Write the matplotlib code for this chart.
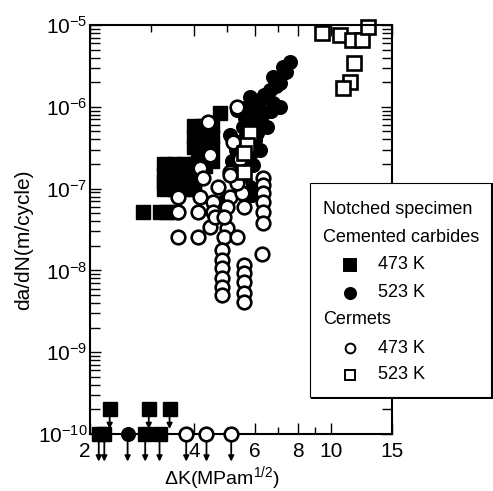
import numpy as np
import matplotlib
matplotlib.use('Agg')
import matplotlib.pyplot as plt
from matplotlib.lines import Line2D
from matplotlib.patches import Rectangle
from matplotlib.ticker import FixedLocator, FixedFormatter, LogLocator, LogFormatterMathtext, NullFormatter

plt.rcParams['font.family'] = ['Liberation Sans', 'DejaVu Sans']
plt.rcParams['mathtext.fontset'] = 'custom'
plt.rcParams['mathtext.rm'] = 'Liberation Sans'

# cemented carbides, 473 K (filled squares)
sq473_dk = [3.28, 3.50, 3.75, 4.00, 3.28, 3.50, 3.75, 4.00, 3.28, 3.50, 3.75, 4.00,
            3.28, 3.50, 3.75, 4.00,
            4.00, 4.25, 4.50, 4.00, 4.25, 4.50, 4.00, 4.25, 4.50, 4.10, 4.35,
            4.77, 4.30, 4.50,
            2.85, 3.19, 3.34, 3.50]
sq473_rate = [2.0e-7, 2.0e-7, 2.0e-7, 2.0e-7, 1.5e-7, 1.5e-7, 1.5e-7, 1.5e-7, 1.2e-7, 1.2e-7, 1.2e-7, 1.2e-7,
              1.0e-7, 1.0e-7, 1.0e-7, 1.0e-7,
              5.8e-7, 5.8e-7, 5.8e-7, 4.3e-7, 4.3e-7, 4.3e-7, 3.2e-7, 3.2e-7, 3.2e-7, 2.5e-7, 2.5e-7,
              8.4e-7, 1.9e-7, 2.2e-7,
              5.2e-8, 5.2e-8, 5.2e-8, 5.2e-8]

# cemented carbides, 523 K (filled circles)
ci523_dk = [7.6, 7.25, 6.8, 7.1, 6.65, 6.22, 5.82, 5.71, 6.8, 7.1, 6.37, 6.53, 5.95, 5.55,
            5.71, 5.44, 5.82, 6.0, 5.55, 6.22, 6.0, 5.95, 5.88, 5.16, 5.3, 5.1, 5.33, 5.63,
            4.8, 4.9,
            7.4, 6.9, 6.4, 6.1, 5.9, 6.7, 6.2, 5.7, 5.85, 5.6, 6.1]
ci523_rate = [3.5e-6, 3.1e-6, 2.3e-6, 1.95e-6, 1.6e-6, 1.21e-6, 1.32e-6, 1.0e-6, 1.11e-6, 1.0e-6,
              8.4e-7, 5.7e-7, 6.3e-7, 3.9e-7, 2.2e-7, 1.55e-7, 1.05e-7, 9.1e-7, 5.7e-7, 3.0e-7,
              3.9e-7, 1.94e-7, 8.4e-8, 2.2e-7, 3.0e-7, 4.5e-7, 9.1e-7, 7.3e-7, 5.5e-8, 7.0e-8,
              2.7e-6, 1.8e-6, 1.4e-6, 1.1e-6, 8.0e-7, 9.0e-7, 7.0e-7, 5.0e-7, 2.7e-7, 1.3e-7, 4.8e-7]

# cermets, 473 K (open circles)
oc473_dk = [5.33, 4.40, 5.19, 4.46, 4.17, 5.09, 5.44,
            6.35, 6.35, 6.35, 6.35, 6.35, 6.35, 6.30,
            4.70, 3.60, 4.17, 4.55, 5.09, 5.00, 5.57,
            3.60, 4.11, 4.55, 4.46, 5.00, 4.61, 4.90,
            3.60, 4.11, 4.90, 5.33,
            4.82, 4.82, 4.82, 4.82, 4.82, 4.82,
            5.57, 5.57, 5.57, 5.57, 5.57,
            5.52, 4.26, 5.33, 5.44, 5.10]
oc473_rate = [1.0e-6, 6.5e-7, 3.7e-7, 2.6e-7, 1.8e-7, 1.6e-7, 1.1e-7,
              1.35e-7, 1.1e-7, 8.8e-8, 6.9e-8, 5.2e-8, 3.8e-8, 1.6e-8,
              1.04e-7, 7.9e-8, 7.9e-8, 6.9e-8, 7.9e-8, 5.9e-8, 5.9e-8,
              5.2e-8, 5.2e-8, 5.2e-8, 3.4e-8, 3.3e-8, 4.5e-8, 4.5e-8,
              2.56e-8, 2.56e-8, 2.56e-8, 2.56e-8,
              1.77e-8, 1.34e-8, 1.07e-8, 8.1e-9, 6.3e-9, 5.0e-9,
              1.16e-8, 9.3e-9, 7.2e-9, 5.3e-9, 4.1e-9,
              8.8e-8, 1.35e-7, 1.17e-7, 2.3e-7, 1.45e-7]

# cermets, 523 K (open squares)
os523_dk = [5.82, 5.70, 5.57, 5.57, 9.4, 10.6, 11.5, 12.3, 12.8, 11.6, 11.3, 10.8]
os523_rate = [4.8e-7, 3.4e-7, 1.6e-7, 2.7e-7, 8.0e-6, 7.55e-6, 6.6e-6, 6.6e-6, 9.5e-6,
              3.4e-6, 2.0e-6, 1.7e-6]

# run-outs (no growth detected), plotted at the lower limit
run_dk = [2.12, 2.20, 2.89, 3.18, 2.57, 3.80, 4.35, 5.13, 2.28, 2.96, 3.40]
run_rate = [1e-10, 1e-10, 1e-10, 1e-10, 1e-10, 1e-10, 1e-10, 1e-10, 2e-10, 2e-10, 2e-10]
run_kind = ['sq', 'sq', 'sq', 'sq', 'ci', 'oc', 'oc', 'oc', 'sq', 'sq', 'sq']

xticks = [2, 4, 6, 8, 10, 15]
xticklabels = ['2', '4', '6', '8', '10', '15']

fig = plt.figure(figsize=(4.93, 4.91), dpi=100)
ax = fig.add_axes([0.1826, 0.1161, 0.6126, 0.8330])

ms = 9.8
kw_fill = dict(ls='none', color='k', ms=ms, clip_on=False)
kw_open = dict(ls='none', mfc='white', mec='k', mew=1.9, ms=ms, clip_on=False)

# run-out arrows
for x, y in zip(run_dk, run_rate):
    if y < 1.5e-10:
        ax.annotate('', xy=(x, 4.6e-11), xytext=(x, y), annotation_clip=False,
                    arrowprops=dict(arrowstyle='-|>', color='k', lw=1.3, mutation_scale=8,
                                    shrinkA=0, shrinkB=0))
    else:
        ax.annotate('', xy=(x, 1.15e-10), xytext=(x, y), annotation_clip=False,
                    arrowprops=dict(arrowstyle='-|>', color='k', lw=1.3, mutation_scale=8,
                                    shrinkA=0, shrinkB=0))

ax.plot(sq473_dk, sq473_rate, marker='s', **kw_fill)
ax.plot(ci523_dk, ci523_rate, marker='o', **kw_fill)
ax.plot(oc473_dk, oc473_rate, marker='o', **kw_open)
ax.plot(os523_dk, os523_rate, marker='s', **kw_open)

for x, y, k in zip(run_dk, run_rate, run_kind):
    if k == 'sq':
        ax.plot([x], [y], marker='s', zorder=3, **kw_fill)
    elif k == 'ci':
        ax.plot([x], [y], marker='o', zorder=3, **kw_fill)
    else:
        ax.plot([x], [y], marker='o', zorder=3, **kw_open)

ax.set_xscale('log')
ax.set_yscale('log')
ax.set_xlim(2, 15)
ax.set_ylim(1e-10, 1e-5)

ax.xaxis.set_major_locator(FixedLocator(xticks))
ax.xaxis.set_major_formatter(FixedFormatter(xticklabels))
ax.xaxis.set_minor_locator(FixedLocator([3, 5, 7, 9]))
ax.xaxis.set_minor_formatter(NullFormatter())
ax.yaxis.set_major_locator(LogLocator(base=10))
ax.yaxis.set_major_formatter(LogFormatterMathtext())
ax.yaxis.set_minor_locator(LogLocator(base=10, subs=np.arange(2, 10)))
ax.yaxis.set_minor_formatter(NullFormatter())

ax.tick_params(which='both', direction='in', top=True, right=True, labelsize=15, width=1)
ax.tick_params(which='major', length=8)
ax.tick_params(axis='x', which='minor', length=5)
ax.tick_params(axis='y', which='minor', length=7)
ax.tick_params(axis='y', pad=2)
ax.tick_params(axis='x', pad=6)
ax.xaxis.get_majorticklabels()[0].set_horizontalalignment('right')
for s in ax.spines.values():
    s.set_linewidth(1.5)

ax.set_xlabel('ΔK(MPam$^{1/2}$)', fontsize=14)
ax.set_ylabel('da/dN(m/cycle)', fontsize=15)
ax.xaxis.set_label_coords(0.437, -0.074)
ax.yaxis.set_label_coords(-0.189, 0.474)

# legend box
fig.add_artist(Rectangle((0.6308, 0.1874), 0.37, 0.4399, transform=fig.transFigure,
                         facecolor='k', edgecolor='none', zorder=10))
fig.add_artist(Rectangle((0.6288, 0.1914), 0.3672, 0.4359, transform=fig.transFigure,
                         facecolor='white', edgecolor='k', lw=0.8, zorder=11))
fig.text(0.655, 0.5743, 'Notched specimen', fontsize=13, va='center', zorder=12)
fig.text(0.655, 0.5173, 'Cemented carbides', fontsize=13, va='center', zorder=12)
fig.text(0.655, 0.3483, 'Cermets', fontsize=13, va='center', zorder=12)
leg_y = [0.4603, 0.4033, 0.2912, 0.2363]
leg_marker = ['s', 'o', 'o', 's']
leg_fill = ['k', 'k', 'white', 'white']
leg_label = ['473 K', '523 K', '473 K', '523 K']
for y, m, f, lab in zip(leg_y, leg_marker, leg_fill, leg_label):
    fig.add_artist(Line2D([0.710], [y], transform=fig.transFigure, marker=m, ls='none',
                          ms=8 if f == 'k' else 7, mfc=f, mec='k', mew=1.4, zorder=12))
    fig.text(0.767, y, lab, fontsize=13, va='center', zorder=12)

fig.savefig('out.png', dpi=100)
